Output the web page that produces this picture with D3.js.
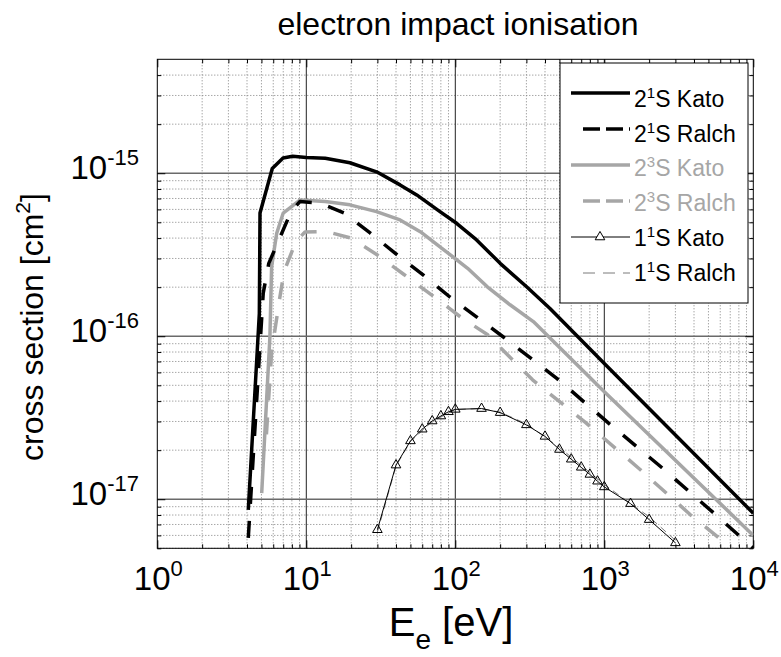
<!DOCTYPE html>
<html><head><meta charset="utf-8">
<script src="https://cdn.jsdelivr.net/npm/d3@7/dist/d3.min.js"></script>
<style>
body{margin:0;background:#fff}
text{font-family:"Liberation Sans",Arial,Helvetica,sans-serif;fill:#000}
</style>
</head><body>
<svg id="chart" width="781" height="657"></svg>
<script>
// ---------- data ----------
const xTickValues = [1, 10, 100, 1000, 10000];
const xTickExp = ["0", "1", "2", "3", "4"];
const yTickValues = [1e-17, 1e-16, 1e-15];
const yTickExp = ["-17", "-16", "-15"];

// 2^1S Kato (black solid)
const kato21E = [4.08, 4.84, 4.89, 5.91, 6.98, 8.1, 10, 13.4, 19.6, 29.6, 42.6, 55.1, 78.9, 102, 139, 200, 301, 432, 1000, 10000];
const kato21S = [8.6e-18, 1.38e-16, 5.7e-16, 1.07e-15, 1.24e-15, 1.27e-15, 1.25e-15, 1.236e-15, 1.16e-15, 1.02e-15, 8.48e-16, 7.36e-16, 5.81e-16, 4.93e-16, 3.9e-16, 2.8e-16, 2.01e-16, 1.48e-16, 6.8e-17, 8.2e-18];

// 2^1S Ralch (black dashed)
const ralch21E = [4.08, 5.14, 5.6, 7.9, 9.05, 12.4, 17.9, 26.8, 40, 60.8, 92, 138, 207, 482, 1059, 2440, 5450, 10000];
const ralch21S = [5.8e-18, 1.84e-16, 2.8e-16, 5.8e-16, 6.7e-16, 6.55e-16, 5.7e-16, 4.3e-16, 3.2e-16, 2.38e-16, 1.74e-16, 1.32e-16, 1.0e-16, 5.5e-17, 2.95e-17, 1.56e-17, 8.2e-18, 5.0e-18];

// 2^3S Kato (grey solid)
const kato23E = [5.02, 5.7, 5.85, 6.33, 7.0, 9.05, 13.4, 19.6, 29.6, 42.6, 58.2, 84.2, 121, 164, 233, 334, 1000, 10000];
const kato23S = [1.09e-17, 1.0e-16, 2.67e-16, 4.28e-16, 5.7e-16, 6.85e-16, 6.7e-16, 6.4e-16, 5.81e-16, 5.17e-16, 4.38e-16, 3.38e-16, 2.61e-16, 2.01e-16, 1.56e-16, 1.23e-16, 4.57e-17, 6.0e-18];

// 2^3S Ralch (grey dashed)
const ralch23E = [5.4, 5.85, 6.65, 7.1, 8.5, 9.8, 13.5, 20, 30, 45, 70, 110, 165, 330, 750, 1700, 3800, 10000];
const ralch23S = [2.5e-17, 8e-17, 1.74e-16, 2.5e-16, 3.8e-16, 4.36e-16, 4.4e-16, 4.0e-16, 3.15e-16, 2.4e-16, 1.78e-16, 1.3e-16, 1.02e-16, 5.4e-17, 2.95e-17, 1.55e-17, 8.0e-18, 3.9e-18];

// 1^1S Kato (thin black with triangles)
const kato11E = [30, 40, 50, 60, 70, 80, 90, 100, 150, 200, 300, 400, 500, 600, 700, 800, 900, 1000, 1500, 2000, 3000];
const kato11S = [6.5e-18, 1.62e-17, 2.28e-17, 2.69e-17, 3.02e-17, 3.24e-17, 3.44e-17, 3.56e-17, 3.6e-17, 3.4e-17, 2.86e-17, 2.43e-17, 2.02e-17, 1.76e-17, 1.57e-17, 1.42e-17, 1.29e-17, 1.19e-17, 9.4e-18, 7.5e-18, 5.4e-18];

// 1^1S Ralch (thin grey dashed)
const ralch11E = [30, 40, 50, 70, 100, 150, 200, 300, 500, 1000, 2000, 3000];
const ralch11S = [6.3e-18, 1.6e-17, 2.26e-17, 3.0e-17, 3.55e-17, 3.6e-17, 3.42e-17, 2.9e-17, 2.08e-17, 1.23e-17, 7.8e-18, 5.6e-18];

const legendMain = ["2", "2", "2", "2", "1", "1"];
const legendSup = ["1", "1", "3", "3", "1", "1"];
const legendRest = ["S Kato", "S Ralch", "S Kato", "S Ralch", "S Kato", "S Ralch"];

// ---------- styles ----------
const GREY = "#a6a6a6";
const styles = [
  {stroke: "#000", width: 3.5, dash: null, text: "#000"},
  {stroke: "#000", width: 3.5, dash: "17,17", text: "#000"},
  {stroke: GREY, width: 3.5, dash: null, text: GREY},
  {stroke: GREY, width: 3.5, dash: "17,17", text: GREY},
  {stroke: "#000", width: 1, dash: null, text: "#000", marker: true},
  {stroke: "#7a7a7a", width: 1, dash: "7,5", text: "#000"}
];
const series = [
  [kato21E, kato21S], [ralch21E, ralch21S], [kato23E, kato23S],
  [ralch23E, ralch23S], [kato11E, kato11S], [ralch11E, ralch11S]
];

// ---------- layout ----------
const L = 157.3, R = 753.3, T = 59.3, B = 548.3;
const svg = d3.select("#chart");
const x = d3.scaleLog().domain([1, 1e4]).range([L, R]);
const y = d3.scaleLog().domain([5e-18, 5e-15]).range([B, T]);

const xMinor = [];
for (let d = 1; d < 1e4; d *= 10) for (let k = 2; k <= 9; k++) xMinor.push(d * k);
const yMinor = [];
for (let d = 1e-18; d < 1e-14; d *= 10) for (let k = 2; k <= 9; k++) {
  const v = d * k; if (v >= 5e-18 && v <= 5e-15) yMinor.push(v);
}

// grid
const grid = svg.append("g");
grid.selectAll(".vmin").data(xMinor).join("line")
  .attr("x1", d => x(d)).attr("x2", d => x(d)).attr("y1", T).attr("y2", B)
  .attr("stroke", "#808080").attr("stroke-dasharray", "1,2").attr("stroke-width", 1);
grid.selectAll(".hmin").data(yMinor).join("line")
  .attr("y1", d => y(d)).attr("y2", d => y(d)).attr("x1", L).attr("x2", R)
  .attr("stroke", "#808080").attr("stroke-dasharray", "1,2").attr("stroke-width", 1);
grid.selectAll(".vmaj").data(xTickValues.slice(1, -1)).join("line")
  .attr("x1", d => x(d)).attr("x2", d => x(d)).attr("y1", T).attr("y2", B)
  .attr("stroke", "#222").attr("stroke-width", 1);
grid.selectAll(".hmaj").data(yTickValues).join("line")
  .attr("y1", d => y(d)).attr("y2", d => y(d)).attr("x1", L).attr("x2", R)
  .attr("stroke", "#6a6a6a").attr("stroke-width", 1.5);

// ticks via d3 axes (inward)
function axisG(axis, tx, ty) {
  const g = svg.append("g").attr("transform", `translate(${tx},${ty})`).call(axis);
  g.select(".domain").remove();
  g.selectAll("text").remove();
  g.selectAll("line").attr("stroke", "#000");
  return g;
}
axisG(d3.axisBottom(x).tickValues(xTickValues).tickSize(-8), 0, B);
axisG(d3.axisBottom(x).tickValues(xMinor).tickSize(-4), 0, B);
axisG(d3.axisTop(x).tickValues(xTickValues).tickSize(-8), 0, T);
axisG(d3.axisTop(x).tickValues(xMinor).tickSize(-4), 0, T);
axisG(d3.axisLeft(y).tickValues(yTickValues).tickSize(-8), L, 0);
axisG(d3.axisLeft(y).tickValues(yMinor).tickSize(-4), L, 0);
axisG(d3.axisRight(y).tickValues(yTickValues).tickSize(-8), R, 0);
axisG(d3.axisRight(y).tickValues(yMinor).tickSize(-4), R, 0);

svg.append("rect").attr("x", L).attr("y", T).attr("width", R - L).attr("height", B - T)
  .attr("fill", "none").attr("stroke", "#000").attr("stroke-width", 1);

// tick labels
const xl = svg.append("g").selectAll("text").data(xTickValues).join("text")
  .attr("x", d => x(d) + 1).attr("y", 590).attr("text-anchor", "middle").attr("font-size", 33);
xl.append("tspan").text("10");
xl.append("tspan").attr("dy", -14).attr("font-size", 22).text((d, i) => xTickExp[i]);

const yl = svg.append("g").selectAll("text").data(yTickValues).join("text")
  .attr("x", 139).attr("y", d => y(d) + 6).attr("text-anchor", "end").attr("font-size", 33);
yl.append("tspan").text("10");
yl.append("tspan").attr("dy", -14).attr("font-size", 22).text((d, i) => yTickExp[i]);

// title & axis labels
svg.append("text").attr("x", 458).attr("y", 35).attr("text-anchor", "middle")
  .attr("font-size", 32).text("electron impact ionisation");

const xt = svg.append("text").attr("x", 451).attr("y", 636).attr("text-anchor", "middle").attr("font-size", 40);
xt.append("tspan").text("E");
xt.append("tspan").attr("dy", 13).attr("font-size", 28).text("e");
xt.append("tspan").attr("dy", -13).text(" [eV]");

const yt = svg.append("text").attr("transform", "translate(43,327) rotate(-90)")
  .attr("text-anchor", "middle").attr("font-size", 32);
yt.append("tspan").text("cross section [cm");
yt.append("tspan").attr("dy", -13).attr("font-size", 21).text("2");
yt.append("tspan").attr("dy", 13).text("]");

// curves
svg.append("clipPath").attr("id", "clip").append("rect")
  .attr("x", L).attr("y", T).attr("width", R - L).attr("height", B - T);
const plot = svg.append("g").attr("clip-path", "url(#clip)");
const line = d3.line().x(d => x(d[0])).y(d => y(d[1]));
const order = [5, 4, 3, 2, 1, 0];
order.forEach(i => {
  const [E, S] = series[i];
  const pts = E.map((e, j) => [e, S[j]]);
  const st = styles[i];
  plot.append("path").datum(pts).attr("d", line)
    .attr("fill", "none").attr("stroke", st.stroke).attr("stroke-width", st.width)
    .attr("stroke-dasharray", st.dash).attr("stroke-linejoin", "round");
  if (st.marker) {
    plot.selectAll(".tri").data(pts).join("path")
      .attr("transform", d => `translate(${x(d[0])},${y(d[1])})`)
      .attr("d", d3.symbol(d3.symbolTriangle, 40))
      .attr("fill", "none").attr("stroke", "#000").attr("stroke-width", 1);
  }
});

// legend
const lg = svg.append("g");
lg.append("rect").attr("x", 560).attr("y", 63).attr("width", 188).attr("height", 240)
  .attr("fill", "#fff").attr("stroke", "#000").attr("stroke-width", 1);
styles.forEach((st, i) => {
  const ly = 93 + i * 36;
  const ty = 107 + i * 34.7;
  const x0 = st.dash ? 583 : 571;
  lg.append("line").attr("x1", x0).attr("x2", 630).attr("y1", ly).attr("y2", ly)
    .attr("stroke", st.stroke).attr("stroke-width", st.width)
    .attr("stroke-dasharray", st.dash ? (st.width > 2 ? "17,6" : "12,8") : null);
  if (st.marker) {
    lg.append("path").attr("transform", `translate(600,${ly})`)
      .attr("d", d3.symbol(d3.symbolTriangle, 40)())
      .attr("fill", "#fff").attr("stroke", "#000").attr("stroke-width", 1);
  }
  const t = lg.append("text").attr("x", 634).attr("y", ty).attr("font-size", 23)
    .style("fill", st.text);
  t.append("tspan").text(legendMain[i]);
  t.append("tspan").attr("dy", -9).attr("font-size", 15).text(legendSup[i]);
  t.append("tspan").attr("dy", 9).text(legendRest[i]);
});
</script>
</body></html>
